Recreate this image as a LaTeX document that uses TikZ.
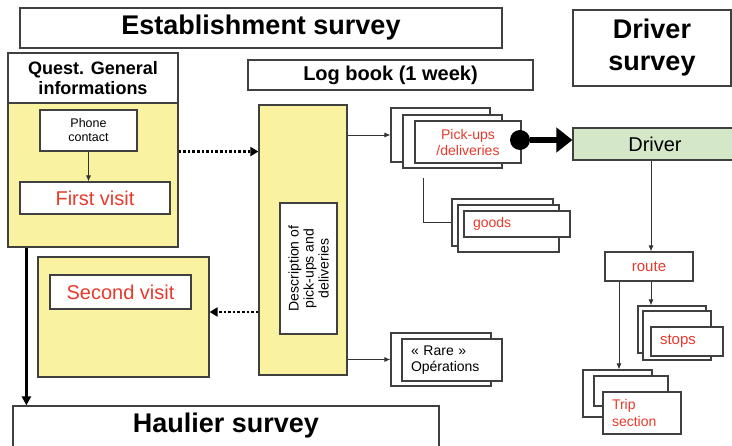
\documentclass[tikz,border=0pt]{standalone}
\usepackage{fontspec}
\setmainfont{Liberation Sans}
\usetikzlibrary{arrows.meta}
\pgfdeclarelayer{edgelayer}
\pgfdeclarelayer{nodelayer}
\pgfsetlayers{edgelayer,nodelayer,main}
\definecolor{qyellow}{RGB}{249,242,160}
\definecolor{lgreen}{RGB}{212,231,200}
\definecolor{lred}{RGB}{232,58,44}
\tikzstyle{headbox}=[rectangle, draw=black!75, line width=1.2pt, fill=white, inner sep=0pt, font=\bfseries\fontsize{27}{32}\selectfont]
\tikzstyle{subhead}=[rectangle, draw=black!75, line width=1.2pt, fill=white, inner sep=0pt, font=\bfseries\fontsize{20}{22}\selectfont]
\tikzstyle{yellowbox}=[rectangle, draw=black!75, line width=1.2pt, fill=qyellow, inner sep=0pt]
\tikzstyle{whitebox}=[rectangle, draw=black!75, line width=1.1pt, fill=white, inner sep=0pt]
\tikzstyle{visit}=[whitebox, text=lred, font=\fontsize{20}{24}\selectfont]
\tikzstyle{card}=[rectangle, draw=black!75, line width=1.1pt, fill=white, inner sep=0pt, text=lred, font=\fontsize{14}{16}\selectfont]
\tikzstyle{leftcard}=[card, inner xsep=9pt, align=left]
\tikzstyle{greenbox}=[rectangle, draw=black!75, line width=1.1pt, fill=lgreen, inner sep=0pt, font=\fontsize{20}{24}\selectfont]
\tikzstyle{hubdot}=[circle, fill=black, minimum size=20pt, inner sep=0pt]
\tikzstyle{link}=[draw=black!80, line width=0.9pt, -{Latex[length=6pt,width=5pt]}]
\tikzstyle{dotlink}=[draw=black, line width=2.6pt, dash pattern=on 2.6pt off 2pt, -{Triangle[length=8pt,width=9pt]}]
\tikzstyle{boldlink}=[draw=black, line width=2.6pt, -{Triangle[length=9pt,width=9pt]}]
\tikzstyle{fatlink}=[draw=black, line width=6pt, -{Triangle[length=16pt,width=24pt]}]

\begin{document}
\begin{tikzpicture}[x=1pt, y=-1pt]
            \useasboundingbox (0,0) rectangle (732,446);
            \begin{pgfonlayer}{nodelayer}
                \node [style=headbox, minimum width=482pt, minimum height=40pt] (estab) at (261, 28) {Establishment survey};
                \node [style=headbox, minimum width=158pt, minimum height=76pt, align=center] (drvsurvey) at (652, 48) {Driver\\survey};
                \node [style=subhead, minimum width=285pt, minimum height=30pt] (logbook) at (390.5, 75) {Log book (1 week)};

                \node [style=subhead, minimum width=170pt, minimum height=50pt, align=center, font=\bfseries\fontsize{18}{20}\selectfont] (quest) at (93, 78) {Quest. General\\informations};
                \node [style=yellowbox, minimum width=170pt, minimum height=144pt] (questy) at (93, 175) {};
                \node [style=whitebox, minimum width=97pt, minimum height=41pt, align=center, font=\fontsize{12.5}{14}\selectfont] (phone) at (88.5, 130.5) {Phone\\contact};
                \node [style=visit, minimum width=150pt, minimum height=32pt] (first) at (95, 198) {First visit};
                \node [style=yellowbox, minimum width=171pt, minimum height=120pt] (secondy) at (123.5, 317) {};
                \node [style=visit, minimum width=141pt, minimum height=34pt] (second) at (120.5, 292) {Second visit};
                \node [style=headbox, minimum width=426pt, text height=23pt, text depth=29pt, inner ysep=4pt] (haulier) at (226, 436) {Haulier survey};

                \node [style=yellowbox, minimum width=88pt, minimum height=270pt] (midy) at (303, 240) {};
                \node [style=whitebox, rotate=90, minimum width=131pt, minimum height=57pt, align=center, font=\fontsize{14}{15}\selectfont] (desc) at (308.5, 268.5) {Description of\\pick-ups and\\deliveries};

                \node [style=card, minimum width=99pt, minimum height=54pt] (pu3) at (440.5, 135) {};
                \node [style=card, minimum width=99pt, minimum height=53pt] (pu2) at (452.5, 141.5) {};
                \node [style=card, minimum width=106pt, minimum height=42pt, align=center] (pu1) at (468, 142) {Pick-ups\\/deliveries};
                \node [style=hubdot] (hub) at (520, 140) {};
                \node [style=greenbox, minimum width=164pt, minimum height=32pt] (driver) at (655, 144) {Driver};
                \coordinate (gstart) at (423, 178);

                \node [style=card, minimum width=101pt, minimum height=47pt] (g3) at (502.5, 222.5) {};
                \node [style=card, minimum width=101pt, minimum height=47pt] (g2) at (508.5, 228.5) {};
                \node [style=leftcard, text width=88pt, minimum height=26pt] (g1) at (517, 224) {goods};

                \node [style=card, minimum width=100pt, minimum height=53pt] (r2) at (441, 359.5) {};
                \node [style=leftcard, text=black, text width=82pt, minimum height=42pt] (r1) at (452, 360) {« Rare »\\Opérations};

                \node [style=card, minimum width=88pt, minimum height=29pt, font=\fontsize{15}{17}\selectfont] (route) at (649, 266.5) {route};
                \node [style=card, minimum width=68pt, minimum height=47pt] (s3) at (672, 329.5) {};
                \node [style=card, minimum width=68pt, minimum height=49pt] (s2) at (677, 335.5) {};
                \node [style=leftcard, text width=54pt, minimum height=29pt, font=\fontsize{15}{17}\selectfont] (s1) at (687, 341.5) {stops};

                \node [style=card, minimum width=69pt, minimum height=47pt] (t3) at (617.5, 393.5) {};
                \node [style=card, minimum width=74pt, minimum height=30pt] (t2) at (631, 391) {};
                \node [style=leftcard, text width=60pt, minimum height=42pt, font=\fontsize{14}{17}\selectfont] (t1) at (642, 413) {Trip\\section};
            \end{pgfonlayer}
            \begin{pgfonlayer}{edgelayer}
                \draw [style=dotlink] (phone.south -| questy.east) to (phone.south -| midy.west);
                \draw [style=dotlink] ([yshift=5pt]secondy.east -| midy.west) to ([yshift=5pt]secondy.east);
                \draw [style=boldlink] ([xshift=19pt]questy.south west) to ([xshift=19pt]questy.south west |- haulier.north);

                \draw [style=link] (midy.east |- pu3.west) to (pu3.west);
                \draw [style=link] (midy.east |- r2.west) to (r2.west);
                \draw [style=link] (gstart) |- ([yshift=6.5pt]g2.west);
                \draw [style=fatlink] (hub.east) to (hub.east -| driver.west);

                \draw [style=link] ([xshift=-4pt]driver.south) to ([xshift=-4pt]driver.south |- route.north);
                \draw [style=link] ([xshift=2pt]route.south) to ([xshift=2pt]route.south |- s3.north);
                \draw [style=link] ([xshift=-30pt]route.south) to ([xshift=-30pt]route.south |- t3.north);
            \end{pgfonlayer}
            % inside the yellow box, so on top
            \draw [style=link] (phone.south) to (phone.south |- first.north);
        \end{tikzpicture}
\end{document}
